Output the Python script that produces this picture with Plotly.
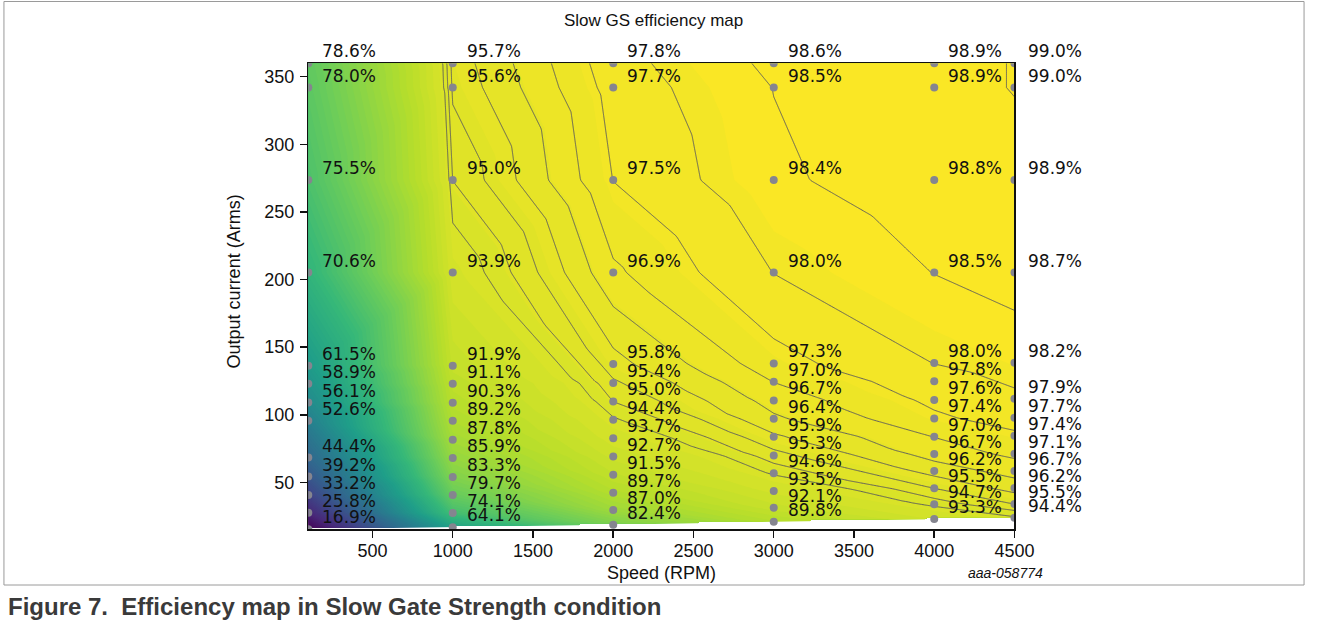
import numpy as np
import plotly.graph_objects as go

# ---------------- data ----------------
speed_rpm = [100, 1000, 2000, 3000, 4000, 4500]

current_100 = [15.3, 27.6, 40.7, 54.3, 68.4, 81.5, 95.6, 109.0, 123.0, 136.3, 205.2, 273.6, 342.0, 360.0]
eff_100 = [16.9, 25.8, 33.2, 39.2, 44.4, None, 52.6, 56.1, 58.9, 61.5, 70.6, 75.5, 78.0, 78.6]

current_1000 = [16.8, 27.4, 40.7, 54.0, 68.1, 81.5, 95.6, 108.9, 123.0, 136.3, 205.2, 273.6, 342.0, 360.0]
eff_1000 = [64.1, 74.1, 79.7, 83.3, 85.9, 87.8, 89.2, 90.3, 91.1, 91.9, 93.9, 95.0, 95.6, 95.7]

current_2000 = [18.7, 29.6, 42.4, 55.6, 69.1, 82.7, 96.3, 109.9, 123.5, 137.6, 205.2, 273.6, 342.0, 360.0]
eff_2000 = [82.4, 87.0, 89.7, 91.5, 92.7, 93.7, 94.4, 95.0, 95.4, 95.8, 96.9, 97.5, 97.7, 97.8]

current_3000 = [20.8, 31.3, 43.7, 56.8, 69.9, 83.7, 97.0, 110.6, 124.4, 138.0, 205.2, 273.6, 342.0, 360.0]
eff_3000 = [89.8, 92.1, 93.5, 94.6, 95.3, 95.9, 96.4, 96.7, 97.0, 97.3, 98.0, 98.4, 98.5, 98.6]

current_4000 = [22.9, 33.9, 45.7, 58.5, 70.9, 83.7, 97.3, 110.9, 124.7, 138.3, 205.2, 273.6, 342.0, 360.0]
eff_4000 = [93.3, 94.7, 95.5, 96.2, 96.7, 97.0, 97.4, 97.6, 97.8, 98.0, 98.5, 98.8, 98.9, 98.9]

current_4500 = [23.8, 34.0, 45.9, 58.5, 71.1, 84.4, 97.8, 111.8, 125.0, 138.5, 205.2, 273.6, 342.0, 360.0]
eff_4500 = [94.4, 95.5, 96.2, 96.7, 97.1, 97.4, 97.7, 97.9, None, 98.2, 98.7, 98.9, 99.0, 99.0]

line_levels_start, line_levels_end, line_levels_step = 94.49, 99.0, 0.5
x_ticks = [500, 1000, 1500, 2000, 2500, 3000, 3500, 4000, 4500]
y_ticks = [50, 100, 150, 200, 250, 300, 350]

columns = [
    (speed_rpm[0], current_100, eff_100),
    (speed_rpm[1], current_1000, eff_1000),
    (speed_rpm[2], current_2000, eff_2000),
    (speed_rpm[3], current_3000, eff_3000),
    (speed_rpm[4], current_4000, eff_4000),
    (speed_rpm[5], current_4500, eff_4500),
]

# valid points per column
cols = []
for sx, cur, ef in columns:
    pts = [(c, e) for c, e in zip(cur, ef) if e is not None]
    cols.append((sx, [p[0] for p in pts], [p[1] for p in pts]))

# ---------------- linear interpolation on a strip triangulation ----------------
tris = []
for k in range(len(cols) - 1):
    xa, ya, za = cols[k]
    xb, yb, zb = cols[k + 1]
    i, j = 0, 0
    while i < len(ya) - 1 or j < len(yb) - 1:
        if j == len(yb) - 1:
            adv_a = True
        elif i == len(ya) - 1:
            adv_a = False
        else:
            adv_a = (ya[i] + ya[i + 1]) < (yb[j] + yb[j + 1])
        if adv_a:
            tris.append(((xa, ya[i], za[i]), (xa, ya[i + 1], za[i + 1]), (xb, yb[j], zb[j])))
            i += 1
        else:
            tris.append(((xa, ya[i], za[i]), (xb, yb[j], zb[j]), (xb, yb[j + 1], zb[j + 1])))
            j += 1

y_min = min(min(c[1]) for c in cols)
y_max = max(max(c[1]) for c in cols)
xs = np.linspace(speed_rpm[0], speed_rpm[-1], 221)
ys = np.linspace(y_min, y_max, 231)
X, Y = np.meshgrid(xs, ys)
Z = np.full(X.shape, np.nan)
eps = 1e-9
for (x0, y0, z0), (x1, y1, z1), (x2, y2, z2) in tris:
    det = (y1 - y2) * (x0 - x2) + (x2 - x1) * (y0 - y2)
    if abs(det) < 1e-12:
        continue
    m = (X >= min(x0, x1, x2) - eps) & (X <= max(x0, x1, x2) + eps) & \
        (Y >= min(y0, y1, y2) - eps) & (Y <= max(y0, y1, y2) + eps)
    Xs, Ys = X[m], Y[m]
    l0 = ((y1 - y2) * (Xs - x2) + (x2 - x1) * (Ys - y2)) / det
    l1 = ((y2 - y0) * (Xs - x2) + (x0 - x2) * (Ys - y2)) / det
    l2 = 1 - l0 - l1
    ins = (l0 >= -1e-7) & (l1 >= -1e-7) & (l2 >= -1e-7)
    vals = l0 * z0 + l1 * z1 + l2 * z2
    sub = Z[m]
    sub[ins] = vals[ins]
    Z[m] = sub

zlist = [[None if np.isnan(v) else float(v) for v in row] for row in Z]

all_eff = [e for c in cols for e in c[2]]
zmin, zmax = min(all_eff), max(all_eff)

fig = go.Figure()

fig.add_trace(go.Contour(
    x=xs, y=ys, z=zlist,
    colorscale="Viridis", zmin=zmin, zmax=zmax,
    contours=dict(start=zmin, end=zmax, size=(zmax - zmin) / 100, coloring="fill"),
    line=dict(width=0), showscale=False, hoverinfo="skip",
))

fig.add_trace(go.Contour(
    x=xs, y=ys, z=zlist,
    contours=dict(start=line_levels_start, end=line_levels_end, size=line_levels_step,
                  coloring="none"),
    line=dict(color="rgba(75,75,100,0.85)", width=1, smoothing=0),
    showscale=False, hoverinfo="skip",
))

# white area below the lowest measured points (outside the data hull)
bottom_x = [c[0] for c in cols]
bottom_y = [c[1][0] for c in cols]
fig.add_trace(go.Scatter(
    x=bottom_x + [bottom_x[-1] + 50, bottom_x[-1] + 50, bottom_x[0]],
    y=bottom_y + [bottom_y[-1], y_min - 20, y_min - 20],
    fill="toself", fillcolor="white", mode="lines", line=dict(width=0, color="white"),
    hoverinfo="skip", showlegend=False,
))

# data points
px, py = [], []
for sx, cy, ce in cols:
    px += [sx] * len(cy)
    py += cy
fig.add_trace(go.Scatter(
    x=px, y=py, mode="markers",
    marker=dict(size=8, color="#85858f"), hoverinfo="skip", showlegend=False,
))

annotations = []
for sx, cy, ce in cols:
    for c, e in zip(cy, ce):
        annotations.append(dict(
            x=sx, y=c, xref="x", yref="y", text=f"{e:.1f}%", showarrow=False,
            xanchor="left", yanchor="middle", xshift=12, yshift=12,
            font=dict(family="DejaVu Sans", size=17, color="#111111"),
        ))

W, H = 1328, 632
L, R, T, B = 313, 1030, 63.2, 529.3

annotations += [
    dict(text="Slow GS efficiency map", xref="paper", yref="paper", x=663 / W, y=1 - 21 / H,
         xanchor="center", yanchor="middle", showarrow=False,
         font=dict(family="Liberation Sans", size=17, color="#111111")),
    dict(text="Speed (RPM)", xref="paper", yref="paper", x=(L + R) / 2 / W, y=1 - 573 / H,
         xanchor="center", yanchor="middle", showarrow=False,
         font=dict(family="Liberation Sans", size=18, color="#111111")),
    dict(text="Output current (Arms)", xref="paper", yref="paper", x=238 / W, y=1 - 281 / H,
         xanchor="center", yanchor="middle", showarrow=False, textangle=-90,
         font=dict(family="Liberation Sans", size=18, color="#111111")),
    dict(text="<i>aaa-058774</i>", xref="paper", yref="paper", x=1021 / W, y=1 - 573 / H,
         xanchor="center", yanchor="middle", showarrow=False,
         font=dict(family="Liberation Sans", size=14, color="#111111")),
    dict(text="<b>Figure 7.  Efficiency map in Slow Gate Strength condition</b>",
         xref="paper", yref="paper", x=6 / W, y=1 - 606 / H,
         xanchor="left", yanchor="middle", showarrow=False,
         font=dict(family="Liberation Sans", size=24, color="#3a3a3a")),
]

fig.update_layout(
    width=W, height=H, autosize=False,
    margin=dict(l=0, r=0, t=0, b=0),
    paper_bgcolor="white", plot_bgcolor="white",
    showlegend=False,
    annotations=annotations,
    shapes=[dict(type="rect", xref="paper", yref="paper",
                 x0=4 / W, x1=1324 / W, y0=1 - 585 / H, y1=1 - 1.5 / H,
                 line=dict(color="#9a9a9a", width=1))],
    xaxis=dict(domain=[L / W, R / W], range=[speed_rpm[0], speed_rpm[-1]],
               tickvals=x_ticks, ticks="outside", ticklen=7, tickwidth=1.5, tickcolor="#111",
               showline=True, linecolor="#111", linewidth=1.5, mirror=True,
               showgrid=False, zeroline=False, ticklabelstandoff=-2,
               tickfont=dict(family="Liberation Sans", size=18, color="#111111")),
    yaxis=dict(domain=[1 - B / H, 1 - T / H], range=[y_min, y_max],
               tickvals=y_ticks, ticks="outside", ticklen=7, tickwidth=1.5, tickcolor="#111",
               showline=True, linecolor="#111", linewidth=1.5, mirror=True,
               showgrid=False, zeroline=False, ticklabelstandoff=2,
               tickfont=dict(family="Liberation Sans", size=18, color="#111111")),
)

fig.write_html(
    "out.html",
    config={"displayModeBar": False, "staticPlot": True},
    post_script="document.body.style.margin='0px';document.body.style.overflow='hidden';",
)
